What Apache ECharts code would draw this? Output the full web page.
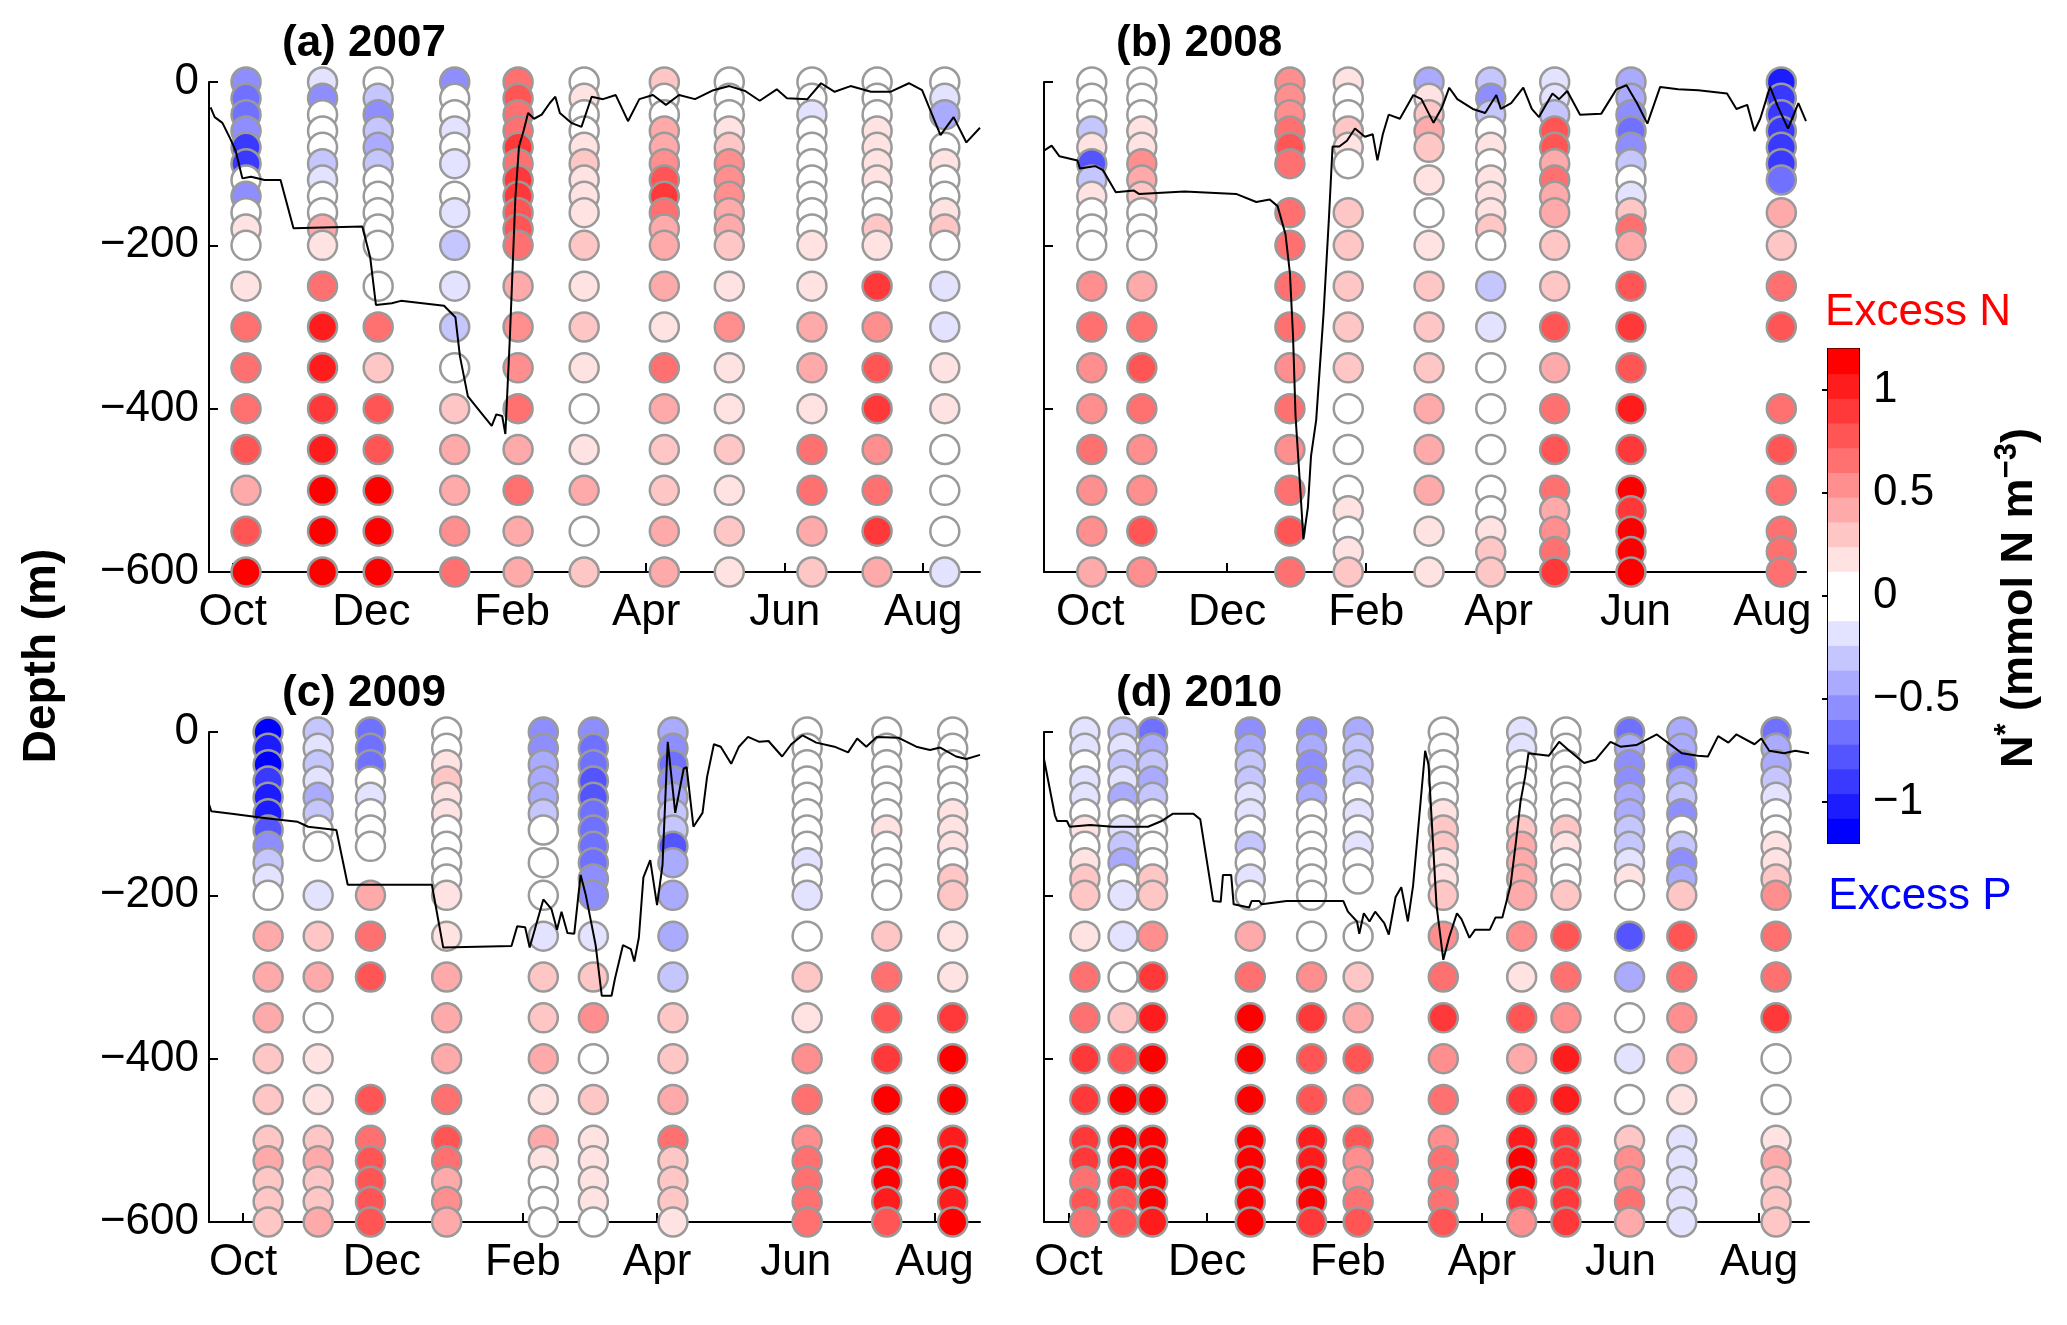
<!DOCTYPE html>
<html>
<head>
<meta charset="utf-8">
<title>N* profiles</title>
<script src="https://cdn.jsdelivr.net/npm/echarts@6/dist/echarts.min.js"></script>
<style>
  html, body { margin: 0; padding: 0; background: #fff; }
  #chart { width: 2067px; height: 1325px; }
</style>
</head>
<body>
<div id="chart"></div>
<script>
// sampling depths (m), shared by every cast; null = no sample at that depth
var DEPTHS = [0, 20, 40, 60, 80, 100, 120, 140, 160, 180, 200, 250, 300, 350, 400, 450, 500, 525, 550, 575, 600];
// month ticks, days since 1 Oct
var MONTH_DAYS = [0, 61, 123, 182, 243, 304];
var MONTH_NAMES = ['Oct', 'Dec', 'Feb', 'Apr', 'Jun', 'Aug'];
var CBAR_TICKS = [-1, -0.5, 0, 0.5, 1];

// ---- (a) 2007 ----
var castDaysA = [5.8, 39.5, 64, 97.7, 125.6, 154.7, 190, 218.6, 255, 283.7, 313.5];
var nstarA = [
  [-0.54,-0.66,-0.66,-0.54,-0.9,-0.9,0,-0.54,0,0.18,0, 0.18,0.66,0.66,0.66,0.78,0.42,null,0.78,null,1.15],
  [-0.18,-0.54,0,0,0,-0.3,-0.18,0,0,0.42,0.18, 0.66,1.02,1.02,0.9,1.02,1.15,null,1.15,null,1.15],
  [0,-0.3,-0.54,-0.3,-0.42,-0.3,0,0,0,0,0, 0,0.66,0.3,0.78,0.78,1.15,null,1.15,null,1.15],
  [-0.54,0,0,-0.18,0,-0.18,null,0,-0.18,null,-0.3, -0.18,-0.3,0,0.3,0.42,0.42,null,0.54,null,0.66],
  [0.66,0.78,0.66,0.66,0.9,0.66,0.9,0.9,0.78,0.78,0.66, 0.42,0.54,0.54,0.66,0.42,0.66,null,0.42,null,0.42],
  [0,0.18,0,0,0.18,0.3,0.18,0.18,0.18,null,0.3, 0.18,0.3,0.18,0,0.18,0.42,null,0,null,0.3],
  [0.3,0,0,0.42,0.42,0.54,0.78,0.9,0.66,0.42,0.42, 0.42,0.18,0.66,0.42,0.3,0.3,null,0.42,null,0.42],
  [0,0,0,0.18,0.3,0.54,0.54,0.54,0.42,0.42,0.3, 0.18,0.54,0.18,0.18,0.3,0.18,null,0.3,null,0.18],
  [0,0,-0.18,0,0,0,0,0,0,0,0.18, 0.18,0.42,0.42,0.18,0.66,0.66,null,0.42,null,0.3],
  [0,0,0,0.18,0.18,0.18,0.18,0,0,0.3,0.18, 0.9,0.54,0.78,0.9,0.54,0.66,null,0.9,null,0.42],
  [0,-0.18,-0.42,null,0,0.18,0,0,0.18,0.3,0, -0.18,-0.18,0.18,0.18,0,0,null,0,null,-0.18]
];
var mldDayA = [-9.8,-8,-4.6,-1.2,1.2,4.2,8,14,21,26.7,57,60.5,63,70,74,93,98,100,103.5,110.5,114,116,118.6,120,122,124.4,126,128,130,132.6,136,139.5,142,144,149,153.5,158,163,168.6,174,179,185,190.7,196.5,203.5,211.6,218.6,225.6,232,239.5,244,253,259,265,272,281,289.5,297.7,303.5,311.6,317.4,323,329];
var mldDepthA = [-31,-43,-50,-69,-84,-118,-116,-120,-120,-179,-177,-215,-273,-271,-268,-274,-288,-336,-385,-409,-421,-407,-409,-431,-312,-142,-79,-60,-38,-45,-40,-26,-18,-38,-50,-55,-18,-21,-16,-48,-21,-16,-28,-16,-21,-10,-5,-11,-23,-9,-20,-21,-1.5,-12,-5,-12,-12,-1.5,-10,-65,-43,-74,-56];

// ---- (b) 2008 ----
var castDaysB = [0.7, 23, 89, 115, 151, 178.5, 207, 241, 308];
var nstarB = [
  [0,0,0,-0.3,0.18,-0.78,-0.3,0.18,0,0,0, 0.54,0.66,0.54,0.54,0.66,0.54,null,0.54,null,0.42],
  [0,0,0,0.18,0.18,0.54,0.42,0.3,0,0,0, 0.42,0.66,0.78,0.66,0.54,0.54,null,0.78,null,0.54],
  [0.54,0.54,0.54,0.66,0.78,0.66,null,null,0.66,null,0.66, 0.66,0.66,0.54,0.66,0.54,0.66,null,0.78,null,0.66],
  [0.18,0,0,0.3,0.18,0,null,null,0.3,null,0.3, 0.3,0.3,0.3,0,0,0,0.18,0,0.18,0.3],
  [-0.42,0.18,0.3,0.42,0.3,null,0.18,null,0,null,0.18, 0.3,0.3,0.3,0.42,0.42,0.42,null,0.18,null,0.18],
  [-0.3,-0.54,-0.3,0,0.18,0,0.18,0.18,0.18,0.3,0, -0.3,-0.18,0,0,0,0,0,0.18,0.3,0.3],
  [-0.18,-0.18,-0.3,0.78,0.78,0.42,0.66,0.42,0.42,null,0.3, 0.3,0.78,0.42,0.66,0.78,0.66,0.42,0.54,0.66,0.9],
  [-0.42,-0.42,-0.54,-0.66,-0.54,-0.3,0,-0.18,0.3,0.66,0.42, 0.78,0.9,0.78,1.02,0.9,1.15,0.9,1.1,1.1,1.15],
  [-1.02,-0.9,-0.9,-0.9,-0.9,-0.9,-0.66,null,0.42,null,0.3, 0.66,0.78,null,0.66,0.78,0.66,null,0.66,0.66,0.66]
];
var mldDayB = [-20.6,-17.2,-13.7,-5.7,-4.6,2.3,5.7,11.4,19.5,21.7,42,65,74,80,83.5,87,89,90.4,91.5,93.8,95,97,98.4,100.7,104,106.4,108,111,114.4,118,122.4,125.9,128,130.4,133,138,144,147.6,153,156.8,160,163.6,170.5,176,181,183,187.6,193,196.8,200,206,209,212.6,218.3,227.7,234.5,239,243.7,248.3,254,262,271,283.8,288,292.8,296,298.6,303,306.6,311,315.6,319];
var mldDepthB = [-84,-78,-91,-96,-106,-103,-108,-135,-133,-137,-134,-137,-147,-144,-152,-186,-234,-312,-409,-506,-560,-521,-458,-414,-283,-166,-79,-79,-72,-57,-67,-64,-96,-64,-40,-45,-16,-21,-50,-31,-7,-21,-33,-38,-16,-33,-26,-7,-33,-43,-14,-21,-11,-40,-39,-9,-4,-26,-51,-6,-9,-10,-14,-33,-28,-60,-45,-6,-31,-57,-26,-48];

// ---- (c) 2009 ----
var castDaysC = [11, 33, 56, 89.5, 132, 154, 189, 248, 283, 312];
var nstarC = [
  [-1.15,-1.02,-1.15,-0.9,-1.02,-1.02,-0.78,-0.54,-0.3,-0.18,0, 0.42,0.42,0.42,0.3,0.3,0.3,0.42,0.3,0.3,0.3],
  [-0.3,-0.18,-0.3,-0.18,-0.42,-0.3,0,0,null,null,-0.18, 0.3,0.42,0,0.18,0.18,0.3,0.42,0.3,0.3,0.42],
  [-0.66,-0.66,-0.66,0,-0.18,0,0,0,null,null,0.42, 0.66,0.78,null,null,0.78,0.66,0.78,0.78,0.78,0.78],
  [0,0,0.18,0.3,0.18,0.18,0,0,0,0,0.18, 0.18,0.42,0.42,0.42,0.66,0.78,0.66,0.42,0.54,0.42],
  [-0.54,-0.54,-0.42,-0.42,-0.42,-0.3,0,null,0,null,0, -0.18,0.3,0.3,0.42,0.18,0.42,0.18,0,0,0],
  [-0.54,-0.66,-0.66,-0.78,-0.78,-0.66,-0.66,-0.66,-0.66,-0.54,-0.54, -0.18,0.3,0.54,0,0.3,0.18,0.18,0.18,0.18,0],
  [-0.42,-0.54,-0.66,-0.54,-0.42,-0.3,-0.3,-0.78,-0.42,null,-0.42, -0.42,-0.3,0.3,0.3,0.42,0.66,0.3,0.3,0.3,0.18],
  [0,0,0,0,0,0,0,0,-0.18,0,-0.18, 0,0.3,0.18,0.54,0.66,0.54,0.66,0.66,0.66,0.66],
  [0,0,0,0,0,0,0.18,0,0,0,0, 0.3,0.66,0.78,0.9,1.15,1.15,1.15,1.15,1.02,0.78],
  [0,0,0,0,0,0.18,0.18,0.18,0,0.3,0.3, 0.18,0.18,0.9,1.15,1.15,1.02,1.15,1.1,1.02,1.15]
];
var mldDayC = [-14.9,-14,-5,11,24,28.6,41,46,83,88,118,120.5,124,126,132,135.6,138,140,142.6,145.6,148.4,150.7,155,157.7,162,163.5,167,170.5,172,174,176,179,182,184.4,186.7,190,193.7,195,198,202,204,207,210,214.6,218,222,227,231,237,241,246,252,260,266,270,274,278.6,288,296,302,306.5,313.5,318,324];
var mldDepthC = [-89,-97,-100,-106,-110,-116,-120,-187,-187,-264,-262,-238,-239,-264,-205,-217,-242,-220,-246,-247,-175,-200,-261,-323,-323,-302,-261,-266,-281,-252,-178,-157,-212,-163,-12,-99,-45,-43,-116,-99,-55,-15,-18,-39,-18,-6,-12,-11,-30,-15,-4,-13,-18,-25,-8,-18,-6,-7,-18,-22,-19,-30,-33,-28];

// ---- (d) 2010 ----
var castDaysD = [7.2, 24, 37, 80, 107, 127.5, 165, 199.5, 219, 247, 270, 311.5];
var nstarD = [
  [-0.18,-0.18,0,-0.18,-0.18,0,0.18,0,0.18,0.3,0.3, 0.18,0.66,0.66,0.9,0.9,0.9,0.9,0.66,0.78,0.66],
  [-0.3,-0.18,-0.3,-0.18,-0.42,0,-0.18,-0.3,-0.42,0,-0.18, -0.18,0,0.3,0.78,1.15,1.1,1.1,1.02,0.78,0.78],
  [-0.66,-0.42,-0.3,-0.42,-0.3,0,0,0,0,0.3,0.3, 0.54,0.9,1.02,1.15,1.15,1.1,1.1,1.1,1.1,1.02],
  [-0.54,-0.42,-0.3,-0.3,-0.18,-0.18,0,-0.3,0,-0.18,0, 0.42,0.66,1.15,1.15,1.15,1.1,1.1,1.1,1.1,1.15],
  [-0.54,-0.42,-0.54,-0.54,-0.42,0,0,0,0,0,0, 0,0.54,0.9,0.78,0.78,1.02,1.02,1.1,1.1,0.9],
  [-0.42,-0.3,-0.3,-0.3,0,-0.18,0,-0.18,0,0,null, 0,0.3,0.42,0.78,0.54,0.78,0.54,0.54,0.66,0.78],
  [0,0,0,0,0,0.18,0.3,0.3,0.18,0.18,0.3, 0.54,0.66,0.9,0.54,0.66,0.54,0.66,0.66,0.66,0.78],
  [-0.18,-0.18,0,0,0,0,0.3,0.42,0.42,0.42,0.42, 0.54,0.18,0.78,0.42,0.9,1.02,1.15,1.1,0.9,0.54],
  [0,0,0,0,0,0,0.3,0.18,0,0,0.3, 0.78,0.66,0.54,1.02,1.02,0.9,0.9,0.9,0.9,0.9],
  [-0.66,-0.42,-0.54,-0.54,-0.42,-0.42,-0.3,-0.3,-0.18,0.18,0, -0.78,-0.42,0,-0.18,0,0.3,0.54,0.54,0.66,0.42],
  [-0.42,-0.42,-0.66,-0.42,-0.3,-0.54,0,-0.3,-0.54,-0.42,0.3, 0.78,0.66,0.54,0.42,0.18,-0.18,-0.18,-0.18,-0.18,-0.18],
  [-0.66,-0.42,-0.42,-0.3,-0.18,0,0,0.18,0.18,0.3,0.54, 0.66,0.66,0.9,0,0,0.18,0.42,0.3,0.3,0.3]
];
var mldDayD = [-10.8,-6,-5,-0.7,0.5,9.5,19.6,35,41,46,55,58,63.7,67,68,71.6,72.7,79.5,80.6,84,85,96,121,123,127,128,130,132.5,135,139,141,144,146.5,149.4,151.7,157,158.5,162,165,167.5,171,173,176.5,179,185.5,188,191,194.6,197,199,201,202.5,211.5,216,220.5,227,232,238.6,243,250,259,265.7,270,277,281.5,286,290.5,294,302,305,308.5,315,320,326];
var mldDepthD = [-33,-102,-109,-109,-116,-114,-116,-116,-109,-100,-100,-107,-207,-208,-175,-175,-211,-215,-207,-207,-211,-207,-207,-220,-232,-247,-222,-232,-220,-234,-248,-202,-190,-232,-188,-23,-40,-212,-279,-252,-222,-229,-252,-242,-242,-227,-227,-188,-134,-85,-55,-26,-29,-12,-23,-38,-34,-12,-18,-16,-3,-17,-26,-29,-30,-5,-13,-3,-15,-8,-23,-26,-23,-26];

var FONT = 'Liberation Sans, Arial, Helvetica, sans-serif';

// 20-step blue-white-red colour scale over [-1.2, 1.2]
function nstarColor(v) {
    var k = Math.min(9, Math.floor(Math.abs(v) / 0.12 + 1e-6));
    var c = Math.round(255 * (1 - k / 9));
    return v >= 0 ? 'rgb(255,' + c + ',' + c + ')' : 'rgb(' + c + ',' + c + ',255)';
}
function minus(v) { return v < 0 ? '\u2212' + String(-v) : String(v); }

var panels = [
    { title: '(a) 2007', days: castDaysA, nstar: nstarA, mldDay: mldDayA, mldDepth: mldDepthA, yLabels: true,
      xMin: -10.5, xMax: 329, grid: { left: 209, top: 82, width: 771, height: 490 }, tPos: [282, 22] },
    { title: '(b) 2008', days: castDaysB, nstar: nstarB, mldDay: mldDayB, mldDepth: mldDepthB, yLabels: false,
      xMin: -20.6, xMax: 319, grid: { left: 1044, top: 82, width: 762, height: 490 }, tPos: [1116, 22] },
    { title: '(c) 2009', days: castDaysC, nstar: nstarC, mldDay: mldDayC, mldDepth: mldDepthC, yLabels: true,
      xMin: -15, xMax: 324, grid: { left: 209, top: 732, width: 771, height: 490 }, tPos: [282, 672] },
    { title: '(d) 2010', days: castDaysD, nstar: nstarD, mldDay: mldDayD, mldDepth: mldDepthD, yLabels: false,
      xMin: -10.8, xMax: 326, grid: { left: 1044, top: 732, width: 765, height: 490 }, tPos: [1116, 672] }
];

var myChart = echarts.init(document.getElementById('chart'), null, { renderer: 'canvas' });

var grids = [], xAxes = [], yAxes = [], series = [], titles = [];
var axisLineStyle = { color: '#000', width: 2 };

panels.forEach(function (p, i) {
    grids.push({ left: p.grid.left, top: p.grid.top, width: p.grid.width, height: p.grid.height,
                 outerBoundsMode: 'none' });
    xAxes.push({
        gridIndex: i, type: 'value', min: p.xMin, max: p.xMax,
        axisLine: { show: true, onZero: false, lineStyle: axisLineStyle },
        axisTick: { show: true, inside: true, length: 9, lineStyle: axisLineStyle, customValues: MONTH_DAYS },
        axisLabel: {
            customValues: MONTH_DAYS, color: '#000', fontSize: 44, fontFamily: FONT, margin: 19,
            formatter: function (v) { return MONTH_NAMES[MONTH_DAYS.indexOf(v)] || ''; }
        },
        splitLine: { show: false }
    });
    yAxes.push({
        gridIndex: i, type: 'value', min: -600, max: 0, interval: 200,
        axisLine: { show: true, onZero: false, lineStyle: axisLineStyle },
        axisTick: { show: true, inside: true, length: 9, lineStyle: axisLineStyle },
        axisLabel: { show: p.yLabels, color: '#000', fontSize: 44, fontFamily: FONT, margin: 10, formatter: minus },
        splitLine: { show: false }
    });
    // bottle samples: shallow first so deeper circles sit on top
    var pts = [];
    p.days.forEach(function (d, c) {
        p.nstar[c].forEach(function (v, j) {
            if (v !== null) pts.push([d, -DEPTHS[j], v]);
        });
    });
    series.push({
        type: 'scatter', xAxisIndex: i, yAxisIndex: i, data: pts, symbolSize: 29, clip: false, z: 2,
        itemStyle: {
            color: function (params) { return nstarColor(params.value[2]); },
            borderColor: '#9a9a9a', borderWidth: 2.5, opacity: 1
        },
        emphasis: { disabled: true }
    });
    // mixed layer depth
    var line = [];
    for (var k = 0; k < Math.min(p.mldDay.length, p.mldDepth.length); k++) {
        line.push([p.mldDay[k], p.mldDepth[k]]);
    }
    series.push({
        type: 'line', xAxisIndex: i, yAxisIndex: i, data: line, showSymbol: false, symbol: 'none',
        lineStyle: { color: '#000', width: 2 }, z: 3, clip: false, animation: false
    });
    titles.push({
        text: p.title, left: p.tPos[0], top: p.tPos[1], padding: 0,
        textStyle: { fontSize: 44, fontWeight: 'bold', color: '#000', fontFamily: FONT }
    });
});

// colour bar
var cbIndex = panels.length;
var cbBands = [];
for (var b = 0; b < 20; b++) {
    var lo = -1.2 + b * 0.12;
    cbBands.push([lo, lo + 0.12]);
}
grids.push({ left: 1828, top: 349, width: 31, height: 494, show: true, borderColor: '#000', borderWidth: 2,
             backgroundColor: 'transparent', outerBoundsMode: 'none' });
xAxes.push({ gridIndex: cbIndex, type: 'value', min: 0, max: 1, show: false });
yAxes.push({
    gridIndex: cbIndex, type: 'value', min: -1.2, max: 1.2, position: 'right',
    axisLine: { show: false },
    axisTick: { show: true, inside: true, length: 6, lineStyle: axisLineStyle, customValues: CBAR_TICKS },
    axisLabel: { customValues: CBAR_TICKS, color: '#000', fontSize: 44, fontFamily: FONT, margin: 14, formatter: minus },
    splitLine: { show: false }
});
yAxes.push({
    gridIndex: cbIndex, type: 'value', min: -1.2, max: 1.2, position: 'left',
    axisLine: { show: false },
    axisTick: { show: true, inside: true, length: 6, lineStyle: axisLineStyle, customValues: CBAR_TICKS },
    axisLabel: { show: false }, splitLine: { show: false }
});
series.push({
    type: 'custom', xAxisIndex: cbIndex, yAxisIndex: cbIndex, data: cbBands, z: 1,
    renderItem: function (params, api) {
        var p0 = api.coord([0, api.value(0)]);
        var p1 = api.coord([1, api.value(1)]);
        var mid = (api.value(0) + api.value(1)) / 2;
        return {
            type: 'rect',
            shape: { x: p0[0], y: p1[1] - 0.5, width: p1[0] - p0[0], height: p0[1] - p1[1] + 1 },
            style: { fill: nstarColor(mid) }
        };
    }
});

var option = {
    backgroundColor: '#fff',
    animation: false,
    title: titles,
    grid: grids,
    xAxis: xAxes,
    yAxis: yAxes,
    series: series,
    graphic: [
        { type: 'text', x: 42, y: 656, rotation: Math.PI / 2,
          style: { text: 'Depth (m)', fontSize: 46, fontWeight: 'bold', fontFamily: FONT, fill: '#000',
                   align: 'center', verticalAlign: 'middle' } },
        { type: 'text', x: 1918, y: 313,
          style: { text: 'Excess N', fontSize: 44, fontFamily: FONT, fill: '#ff0000', align: 'center', verticalAlign: 'middle' } },
        { type: 'text', x: 1920, y: 897,
          style: { text: 'Excess P', fontSize: 44, fontFamily: FONT, fill: '#0000ff', align: 'center', verticalAlign: 'middle' } },
        { type: 'text', x: 2020, y: 598, rotation: Math.PI / 2,
          style: {
              text: '{b|N}{s|*}{b| (mmol N m}{s|\u22123}{b|)}',
              align: 'center', verticalAlign: 'middle', fill: '#000',
              rich: {
                  b: { fontSize: 45, fontWeight: 'bold', fontFamily: FONT, fill: '#000', lineHeight: 56 },
                  s: { fontSize: 31, fontWeight: 'bold', fontFamily: FONT, fill: '#000', lineHeight: 56,
                       verticalAlign: 'top', padding: [0, 0, 20, 0] }
              }
          } }
    ]
};

myChart.setOption(option);
window.addEventListener('resize', function () {
    myChart.resize();
});
</script>
</body>
</html>
